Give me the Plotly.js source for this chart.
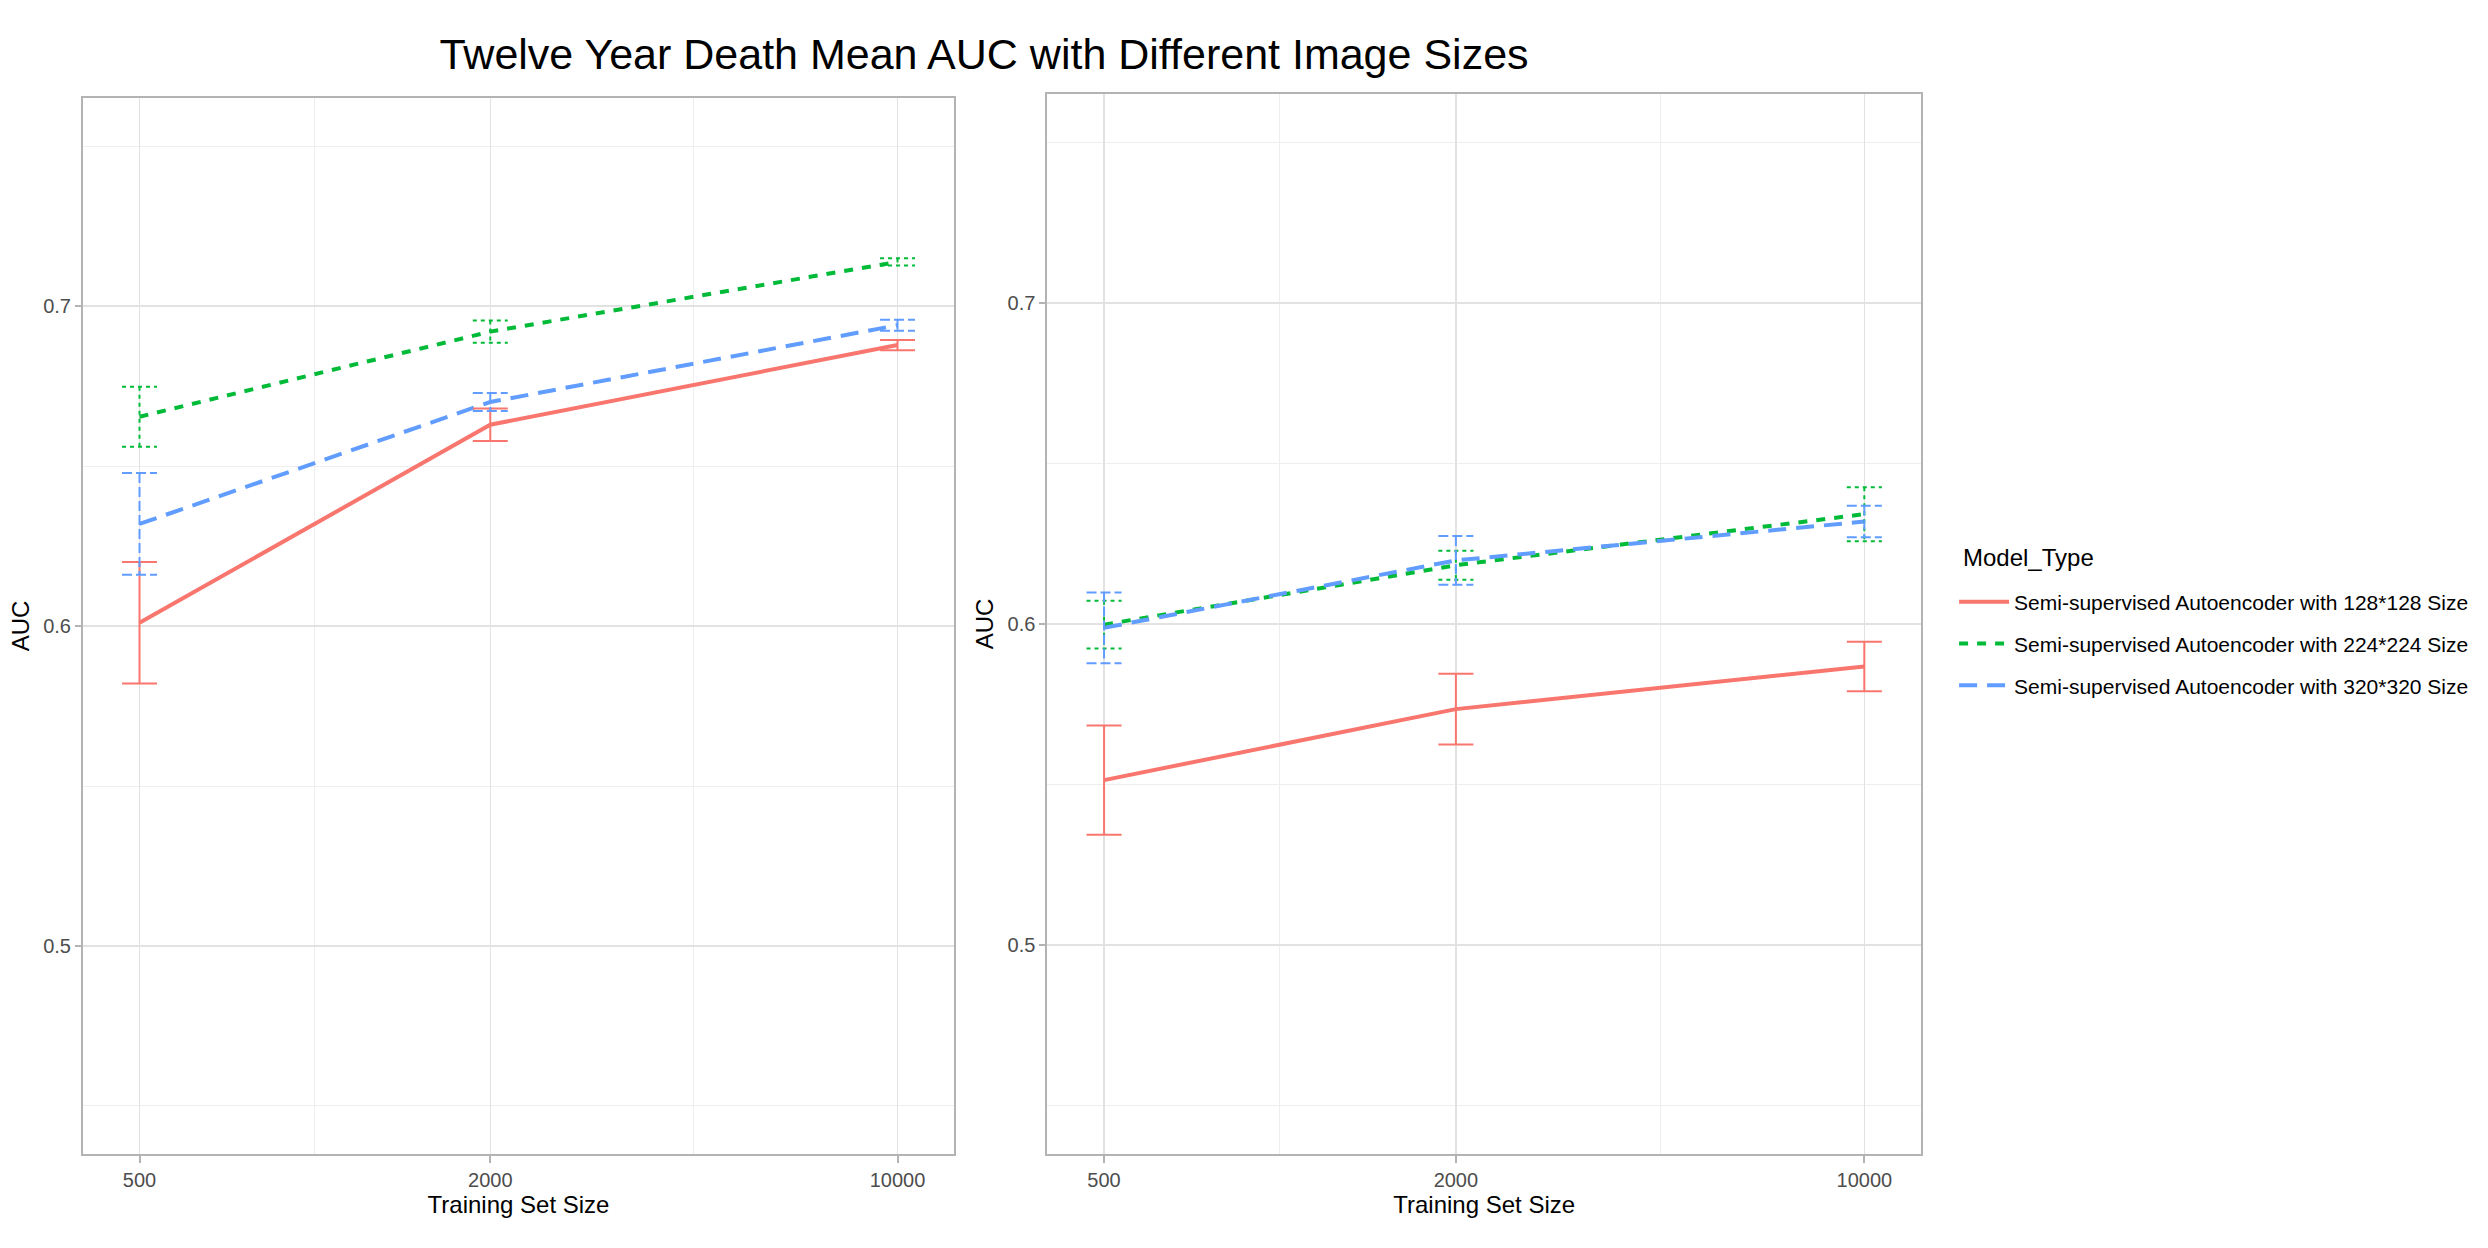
<!DOCTYPE html>
<html>
<head>
<meta charset="utf-8">
<script src="https://cdn.plot.ly/plotly-3.0.1.min.js"></script>
<style>
    html, body { margin: 0; padding: 0; background: #ffffff; }
    #chart { width: 2488px; height: 1248px; }
</style>
</head>
<body>
<div id="chart"></div>
<script>
// Training set sizes on the (log) x axis
const trainingSizes = [500, 2000, 10000]

const modelTypes = [
    "Semi-supervised Autoencoder with 128*128 Size",
    "Semi-supervised Autoencoder with 224*224 Size",
    "Semi-supervised Autoencoder with 320*320 Size"
]

// Left panel: mean AUC and error (half height of the error bar)
const leftAuc128 = [0.6010, 0.6629, 0.6878]
const leftErr128 = [0.0190, 0.0051, 0.0016]
const leftAuc224 = [0.6654, 0.6920, 0.7138]
const leftErr224 = [0.0094, 0.0035, 0.0011]
const leftAuc320 = [0.6319, 0.6700, 0.6940]
const leftErr320 = [0.0159, 0.0028, 0.0017]

// Right panel
const rightAuc128 = [0.5514, 0.5735, 0.5868]
const rightErr128 = [0.0170, 0.0110, 0.0077]
const rightAuc224 = [0.5998, 0.6183, 0.6342]
const rightErr224 = [0.0074, 0.0045, 0.0084]
const rightAuc320 = [0.5988, 0.6198, 0.6319]
const rightErr320 = [0.0110, 0.0076, 0.0049]

const yTickValues = [0.5, 0.6, 0.7]
const yTickLabels = ["0.5", "0.6", "0.7"]
const yMinorValues = [0.45, 0.55, 0.65, 0.75]

const FONT = "Liberation Sans, Arial, sans-serif"
const colors = ["#F8766D", "#00BA38", "#619CFF"]
const lineDashes = ["solid", "9px,9px", "18px,10px"]
const errorDashes = ["solid", "4px,4px", "10px,4px"]
const capHalfWidth = 0.03 // log10 units, like ggplot errorbar width = 0.06

/**
 * Builds the path of the error bars (top cap, whisker, bottom cap) for one series.
 * Null values split the path so every piece gets its own dash pattern.
 */
function errorBarPath(xs, means, errs) {
    const f = Math.pow(10, capHalfWidth)
    const x = []
    const y = []
    for (let i = 0; i < xs.length; i++) {
        const hi = means[i] + errs[i]
        const lo = means[i] - errs[i]
        x.push(xs[i] / f, xs[i] * f, null, xs[i], xs[i], null, xs[i] / f, xs[i] * f, null)
        y.push(hi, hi, null, hi, lo, null, lo, lo, null)
    }
    return {x: x, y: y}
}

function panelTraces(xaxis, yaxis, means, errs, showlegend) {
    const traces = []
    for (let i = 0; i < means.length; i++) {
        traces.push({
            x: trainingSizes,
            y: means[i],
            xaxis: xaxis,
            yaxis: yaxis,
            type: "scatter",
            mode: "lines",
            name: modelTypes[i],
            legendgroup: "g" + i,
            showlegend: showlegend,
            line: {color: colors[i], width: 4, dash: lineDashes[i]},
            hoverinfo: "x+y"
        })
    }
    for (let i = 0; i < means.length; i++) {
        const path = errorBarPath(trainingSizes, means[i], errs[i])
        traces.push({
            x: path.x,
            y: path.y,
            xaxis: xaxis,
            yaxis: yaxis,
            type: "scatter",
            mode: "lines",
            name: modelTypes[i],
            legendgroup: "g" + i,
            showlegend: false,
            connectgaps: false,
            line: {color: colors[i], width: 2, dash: errorDashes[i]},
            hoverinfo: "skip"
        })
    }
    return traces
}

function xAxis(domain) {
    const minor = []
    for (let i = 0; i < trainingSizes.length - 1; i++) {
        minor.push(Math.sqrt(trainingSizes[i] * trainingSizes[i + 1]))
    }
    return {
        type: "log",
        domain: domain,
        range: [2.602, 4.097],
        tickmode: "array",
        tickvals: trainingSizes,
        ticktext: trainingSizes.map(String),
        ticks: "outside", ticklen: 7, tickwidth: 2, tickcolor: "#B3B3B3",
        tickfont: {family: FONT, size: 20, color: "#4D4D4D"},
        showgrid: true, gridcolor: "#E2E2E2", gridwidth: 1.5,
        minor: {tickmode: "array", tickvals: minor, showgrid: true, gridcolor: "#EEEEEE", gridwidth: 1, ticks: ""},
        showline: true, mirror: true, linecolor: "#B3B3B3", linewidth: 2,
        zeroline: false,
        automargin: false,
        title: {text: "Training Set Size", font: {family: FONT, size: 24, color: "#000000"}, standoff: 6}
    }
}

function yAxis(domain, anchor) {
    return {
        domain: domain,
        anchor: anchor,
        range: [0.435, 0.765],
        tickmode: "array",
        tickvals: yTickValues,
        ticktext: yTickLabels,
        ticks: "outside", ticklen: 6, tickwidth: 2, tickcolor: "#B3B3B3",
        tickfont: {family: FONT, size: 20, color: "#4D4D4D"},
        showgrid: true, gridcolor: "#E2E2E2", gridwidth: 1.5,
        minor: {tickmode: "array", tickvals: yMinorValues, showgrid: true, gridcolor: "#EEEEEE", gridwidth: 1, ticks: ""},
        showline: true, mirror: true, linecolor: "#B3B3B3", linewidth: 2,
        zeroline: false,
        automargin: false,
        title: {text: "AUC", font: {family: FONT, size: 24, color: "#000000"}, standoff: 7}
    }
}

const data = [].concat(
    panelTraces("x", "y", [leftAuc128, leftAuc224, leftAuc320], [leftErr128, leftErr224, leftErr320], true),
    panelTraces("x2", "y2", [rightAuc128, rightAuc224, rightAuc320], [rightErr128, rightErr224, rightErr320], false)
)

const layout = {
    width: 2488,
    height: 1248,
    paper_bgcolor: "#ffffff",
    plot_bgcolor: "#ffffff",
    font: {family: FONT, color: "#000000"},
    margin: {l: 83, r: 567, t: 94, b: 94},
    title: {
        text: "Twelve Year Death Mean AUC with Different Image Sizes",
        font: {family: FONT, size: 43, color: "#000000"},
        xref: "container", x: 0.3955, xanchor: "center",
        yref: "container", y: 0.957, yanchor: "middle"
    },
    xaxis: xAxis([0, 0.4739]),
    yaxis: yAxis([0, 0.9962], "x"),
    xaxis2: Object.assign(xAxis([0.5247, 1]), {anchor: "y2"}),
    yaxis2: yAxis([0, 1], "x2"),
    showlegend: true,
    legend: {
        x: 1.018, y: 0.54, xanchor: "left", yanchor: "top",
        font: {family: FONT, size: 21, color: "#000000"},
        itemwidth: 50,
        tracegroupgap: 11.5,
        bgcolor: "rgba(0,0,0,0)"
    },
    // legend title, kept apart so its gap to the keys matches ggplot
    annotations: [{
        text: "Model_Type",
        xref: "paper", yref: "paper",
        x: 1.0216, y: 0.5623, xanchor: "left", yanchor: "middle",
        showarrow: false,
        font: {family: FONT, size: 24, color: "#000000"}
    }]
}

Plotly.newPlot("chart", data, layout, {displayModeBar: false, staticPlot: true})
</script>
</body>
</html>
